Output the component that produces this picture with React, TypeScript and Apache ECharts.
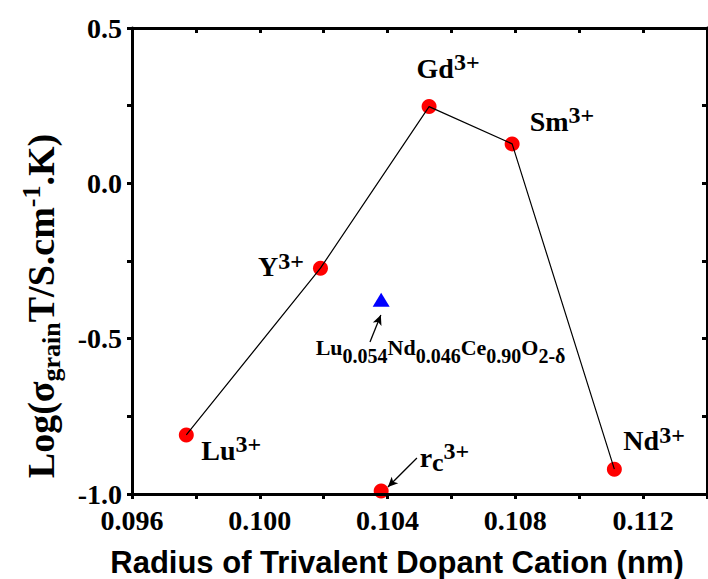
import React, { useEffect, useRef } from "react";
import * as echarts from "echarts";

// Grain conductivity versus radius of the trivalent dopant cation
const ions = ["Lu", "Y", "Gd", "Sm", "Nd"];
const radius = [0.0977, 0.1019, 0.1053, 0.1079, 0.1111];
const logSigmaGrain = [-0.81, -0.273, 0.247, 0.127, -0.92];

// critical radius r_c
const criticalRadius = 0.1038;
const criticalValue = -0.99;

// co-doped Lu0.054Nd0.046Ce0.90O2-δ
const codopedRadius = 0.1038;
const codopedValue = -0.375;

// pixel offsets of each ion label (relative to its marker box)
const ionLabelOffsets: Record<string, [number, number]> = {
  Lu: [22.5, 5],
  Y: [-55, -12],
  Gd: [-5, -49],
  Sm: [25, -33],
  Nd: [16.5, -39],
};

const SERIF = "Liberation Serif";
const SANS = "Liberation Sans";

const rich = {
  m: { fontFamily: SERIF, fontWeight: "bold", fontSize: 28, lineHeight: 36, color: "#000", verticalAlign: "middle" },
  sup: { fontFamily: SERIF, fontWeight: "bold", fontSize: 24, lineHeight: 26, color: "#000", verticalAlign: "top" },
  sub: { fontFamily: SERIF, fontWeight: "bold", fontSize: 26, lineHeight: 20, color: "#000", verticalAlign: "bottom" },
  fm: { fontFamily: SERIF, fontWeight: "bold", fontSize: 22, lineHeight: 36, color: "#000", verticalAlign: "middle" },
  fsub: { fontFamily: SERIF, fontWeight: "bold", fontSize: 20, lineHeight: 18, color: "#000", verticalAlign: "bottom" },
};

const titleRich = {
  m: { fontFamily: SERIF, fontWeight: "bold", fontSize: 38, lineHeight: 46, color: "#000", verticalAlign: "middle" },
  sub: { fontFamily: SERIF, fontWeight: "bold", fontSize: 26, lineHeight: 26, color: "#000", verticalAlign: "bottom" },
  sup: { fontFamily: SERIF, fontWeight: "bold", fontSize: 26, lineHeight: 10, color: "#000", verticalAlign: "top" },
};

const axisLineStyle = { color: "#000", width: 3 };

export default function App() {
  const ref = useRef<HTMLDivElement>(null);

  useEffect(() => {
    if (!ref.current) return;
    const chart = echarts.init(ref.current, undefined, { renderer: "svg" });

    const xLabel = (v: number) => (Math.round(v * 1000) % 4 === 0 ? v.toFixed(3) : "");
    const yLabel = (v: number) => (Math.round(v * 4) % 2 === 0 ? v.toFixed(1) : "");

    const tickLabelStyle = {
      color: "#000",
      fontFamily: SERIF,
      fontWeight: "bold" as const,
      fontSize: 28,
    };

    const ionPoints = ions.map((ion, i) => ({
      value: [radius[i], logSigmaGrain[i]],
      label: {
        show: true,
        position: ionLabelOffsets[ion],
        align: "left",
        verticalAlign: "top",
        formatter: `{m|${ion}}{sup|3+}`,
        rich,
      },
    }));

    chart.setOption({
      animation: false,
      grid: { left: 132, top: 28, width: 575, height: 466, outerBoundsMode: "none" },
      xAxis: [
        {
          type: "value",
          position: "bottom",
          min: 0.096,
          max: 0.114,
          interval: 0.002,
          z: 5,
          axisLine: { show: true, onZero: false, lineStyle: axisLineStyle },
          axisTick: { show: true, inside: false, length: 5, lineStyle: { color: "#000", width: 3 } },
          axisLabel: { ...tickLabelStyle, margin: 12, formatter: xLabel },
          splitLine: { show: false },
        },
        {
          type: "value",
          position: "top",
          min: 0.096,
          max: 0.114,
          interval: 0.002,
          z: 5,
          axisLine: { show: true, onZero: false, lineStyle: axisLineStyle },
          axisTick: { show: true, inside: true, length: 5, lineStyle: { color: "#000", width: 3 } },
          axisLabel: { show: false },
          splitLine: { show: false },
        },
      ],
      yAxis: [
        {
          type: "value",
          position: "left",
          min: -1,
          max: 0.5,
          interval: 0.25,
          z: 5,
          axisLine: { show: true, onZero: false, lineStyle: axisLineStyle },
          axisTick: { show: true, inside: false, length: 5, lineStyle: { color: "#000", width: 3 } },
          axisLabel: { ...tickLabelStyle, margin: 10, formatter: yLabel },
          splitLine: { show: false },
        },
        {
          type: "value",
          position: "right",
          min: -1,
          max: 0.5,
          interval: 0.25,
          z: 5,
          axisLine: { show: true, onZero: false, lineStyle: axisLineStyle },
          axisTick: { show: true, inside: true, length: 5, lineStyle: { color: "#000", width: 3 } },
          axisLabel: { show: false },
          splitLine: { show: false },
        },
      ],
      series: [
        {
          type: "scatter",
          name: "dopants",
          symbol: "circle",
          symbolSize: 15,
          itemStyle: { color: "#ff0000", opacity: 1 },
          z: 2,
          data: ionPoints,
        },
        {
          type: "line",
          name: "trend",
          symbol: "none",
          lineStyle: { color: "#000", width: 1.2 },
          z: 3,
          data: radius.map((r, i) => [r, logSigmaGrain[i]]),
        },
        {
          type: "scatter",
          name: "rc",
          symbol: "circle",
          symbolSize: 15,
          itemStyle: { color: "#ff0000", opacity: 1 },
          z: 2,
          data: [
            {
              value: [criticalRadius, criticalValue],
              label: {
                show: true,
                position: [46, -44],
                align: "left",
                verticalAlign: "top",
                formatter: "{m|r}{sub|c}{sup|3+}",
                rich,
              },
            },
          ],
          markLine: {
            silent: true,
            symbol: ["none", "arrow"],
            symbolSize: [7, 10],
            label: { show: false },
            lineStyle: { color: "#000", width: 1.3, type: "solid" },
            data: [
              [{ coord: [0.10492, -0.884] }, { coord: [0.10401, -0.9775] }],
              [{ coord: [0.10345, -0.511] }, { coord: [0.10379, -0.4238] }],
            ],
          },
        },
        {
          type: "scatter",
          name: "co-doped",
          symbol: "triangle",
          symbolSize: [17, 14],
          itemStyle: { color: "#0000ff", opacity: 1 },
          z: 2,
          data: [
            {
              value: [codopedRadius, codopedValue],
              label: {
                show: true,
                position: [-57, 37],
                align: "left",
                verticalAlign: "top",
                formatter:
                  "{fm|Lu}{fsub|0.054}{fm|Nd}{fsub|0.046}{fm|Ce}{fsub|0.90}{fm|O}{fsub|2-δ}",
                rich,
              },
            },
          ],
        },
      ],
      graphic: [
        {
          type: "text",
          x: 41,
          y: 306,
          rotation: Math.PI / 2,
          style: {
            text: "{m|Log(σ}{sub|grain}{m|T/S.cm}{sup|-1}{m|.K)}",
            rich: titleRich,
            align: "center",
            verticalAlign: "middle",
          },
        },
        {
          type: "text",
          x: 397,
          y: 562,
          style: {
            text: "Radius of Trivalent Dopant Cation (nm)",
            fontFamily: SANS,
            fontWeight: "bold",
            fontSize: 31,
            fill: "#000",
            align: "center",
            verticalAlign: "middle",
          },
        },
      ],
    });

    return () => chart.dispose();
  }, []);

  return (
    <div
      ref={ref}
      style={{ position: "fixed", left: 0, top: 0, width: 708, height: 579, background: "#fff" }}
    />
  );
}
